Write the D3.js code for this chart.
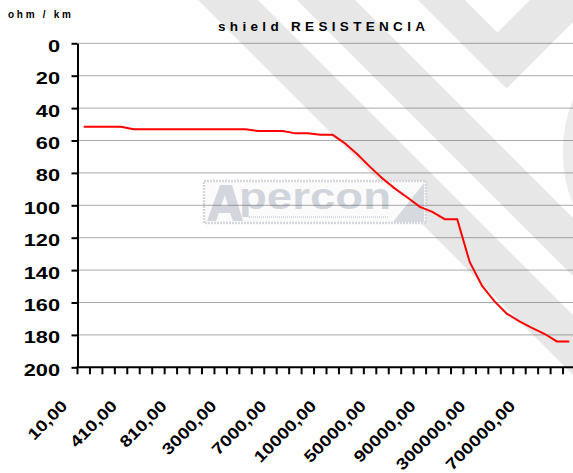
<!DOCTYPE html>
<html>
<head>
<meta charset="utf-8">
<script src="https://cdn.jsdelivr.net/npm/d3@7"></script>
<style>
  body { margin: 0; background: #fff; }
  svg { display: block; }
</style>
</head>
<body>
<div id="container"></div>
<script>
// frequency categories (x axis), one label every 4
const categories = [
  "10,00", "110,00", "210,00", "310,00", "410,00", "510,00", "610,00", "710,00",
  "810,00", "900,00", "1000,00", "2000,00", "3000,00", "4000,00", "5000,00", "6000,00",
  "7000,00", "8000,00", "9000,00", "9500,00", "10000,00", "20000,00", "30000,00", "40000,00",
  "50000,00", "60000,00", "70000,00", "80000,00", "90000,00", "100000,00", "200000,00", "250000,00",
  "300000,00", "400000,00", "500000,00", "600000,00", "700000,00", "800000,00", "900000,00", "1000000,00"
];

// shield resistance, ohm/km
const resistance = [
  51.5, 51.5, 51.5, 51.5, 53, 53, 53, 53,
  53, 53, 53, 53, 53, 53, 54.2, 54.2,
  54.2, 55.6, 55.6, 56.5, 56.5, 61.8, 68.6, 76.3,
  83.5, 89.7, 95.2, 101, 104, 108.6, 108.6, 135,
  149.8, 159.3, 167, 171.7, 175.6, 179.3, 184, 184
];

const yTicks = [0, 20, 40, 60, 80, 100, 120, 140, 160, 180, 200];
const labelEvery = 4;

const width = 573, height = 473;
const font = "'Liberation Sans', Arial, sans-serif";

// the labels in the original are drawn wide; give them a fixed advance
const emWidth = s => s.split("").reduce((a, ch) => a + (ch === "," ? 0.278 : 0.556), 0);

const svg = d3.create("svg")
  .attr("width", width)
  .attr("height", height);

document.getElementById("container").append(svg.node());

// scales (plot runs a little past the right edge, like the original)
const x = d3.scaleBand()
  .domain(categories)
  .range([77.5, 575.5])
  .padding(0);

const y = d3.scaleLinear()
  .domain([0, 200])
  .range([43.3, 367.3]);

// watermark stripes
const wm = svg.append("g").attr("fill", "#e7e7e7");
wm.append("polygon").attr("points", "198,0 258,0 740,482 680,482");
wm.append("polygon").attr("points", "297,0 355,0 840,485 782,485");
wm.append("polygon").attr("points", "418,0 465,0 497.5,32.5 530,0 595,0 506.5,88.5");
wm.append("path")
  .attr("d", "M584,92 A134,134 0 0 0 584,212")
  .attr("fill", "none")
  .attr("stroke", "#ececec")
  .attr("stroke-width", 14);

// logo watermark
const logo = svg.append("g").attr("transform", "translate(203,180)");
logo.append("rect")
  .attr("x", 1).attr("y", 1)
  .attr("width", 222).attr("height", 42)
  .attr("fill", "#fbfbfc")
  .attr("stroke", "#d4d8de")
  .attr("stroke-width", 2.5)
  .attr("stroke-dasharray", "2,1");
logo.append("path")
  .attr("d", "M4,41 L17,5 L29,5 L40,41 L30,41 L27,33 L16,33 L13,41 Z M18,26 L25,26 L22,15 Z")
  .attr("fill", "#d3d7dd")
  .attr("fill-rule", "evenodd");
logo.append("text")
  .attr("x", 36).attr("y", 29)
  .attr("textLength", 152)
  .attr("lengthAdjust", "spacingAndGlyphs")
  .style("font-family", font)
  .style("font-weight", "bold")
  .style("font-size", "36px")
  .style("fill", "#d0d5dc")
  .text("percon");
logo.append("path")
  .attr("d", "M190,42 L221,3 L221,42 Z")
  .attr("fill", "#d6dade");
logo.append("line")
  .attr("x1", 46).attr("x2", 186).attr("y1", 37).attr("y2", 37)
  .attr("stroke", "#d6dade").attr("stroke-width", 2).attr("stroke-dasharray", "1,1");

// gridlines
svg.append("g")
  .selectAll("line")
  .data(yTicks.filter(d => d < 200))
  .join("line")
  .attr("x1", 77.5)
  .attr("x2", width)
  .attr("y1", d => y(d))
  .attr("y2", d => y(d))
  .attr("stroke", "#555")
  .attr("stroke-width", 1)
  .attr("stroke-dasharray", "1,1");

// y axis
const yAxis = svg.append("g")
  .attr("transform", "translate(77.5,0)")
  .call(d3.axisLeft(y).tickValues(yTicks).tickSize(6).tickSizeOuter(0).tickFormat(d => d));
yAxis.select(".domain").attr("stroke", "#000").attr("stroke-width", 2);
yAxis.selectAll(".tick line").attr("stroke", "#000").attr("stroke-width", 2);
yAxis.selectAll(".tick text")
  .attr("x", -17.5)
  .attr("dy", 8)
  .attr("text-anchor", "end")
  .attr("textLength", d => String(d).length * 12.1)
  .attr("lengthAdjust", "spacingAndGlyphs")
  .style("font-family", font)
  .style("font-weight", "bold")
  .style("font-size", "16.5px")
  .style("fill", "#000");

// x axis: line, ticks between categories, labels every 4th
const xAxis = svg.append("g");
xAxis.append("line")
  .attr("x1", x.range()[0] - 1)
  .attr("x2", x.range()[1])
  .attr("y1", y(200))
  .attr("y2", y(200))
  .attr("stroke", "#000")
  .attr("stroke-width", 2);

const boundaries = categories.map(c => x(c)).concat([x.range()[1]]);
xAxis.selectAll(".xtick")
  .data(boundaries)
  .join("line")
  .attr("class", "xtick")
  .attr("x1", d => d)
  .attr("x2", d => d)
  .attr("y1", y(200))
  .attr("y2", y(200) + 7)
  .attr("stroke", "#000")
  .attr("stroke-width", 2);

xAxis.selectAll(".xlabel")
  .data(categories.filter((c, i) => i % labelEvery === 0))
  .join("text")
  .attr("class", "xlabel")
  .attr("transform", d => `translate(${x(d) + x.bandwidth() / 2 - 15.5},407) rotate(-45)`)
  .attr("text-anchor", "end")
  .attr("textLength", d => emWidth(d) * 19.2)
  .attr("lengthAdjust", "spacingAndGlyphs")
  .style("font-family", font)
  .style("font-weight", "bold")
  .style("font-size", "16px")
  .style("fill", "#000")
  .text(d => d);

// the line
const line = d3.line()
  .x((d, i) => x(categories[i]) + x.bandwidth() / 2)
  .y(d => y(d));

svg.append("path")
  .datum(resistance)
  .attr("d", line)
  .attr("fill", "none")
  .attr("stroke", "#ff0000")
  .attr("stroke-width", 2);

// title and unit
svg.append("text")
  .attr("x", 218)
  .attr("y", 30.5)
  .attr("textLength", 207)
  .attr("lengthAdjust", "spacing")
  .style("font-family", font)
  .style("font-weight", "bold")
  .style("font-size", "13.5px")
  .style("fill", "#000")
  .text("shield RESISTENCIA");

svg.append("text")
  .attr("x", 8)
  .attr("y", 18.3)
  .attr("textLength", 63)
  .attr("lengthAdjust", "spacing")
  .style("font-family", font)
  .style("font-weight", "bold")
  .style("font-size", "10px")
  .style("fill", "#000")
  .text("ohm / km");
</script>
</body>
</html>
